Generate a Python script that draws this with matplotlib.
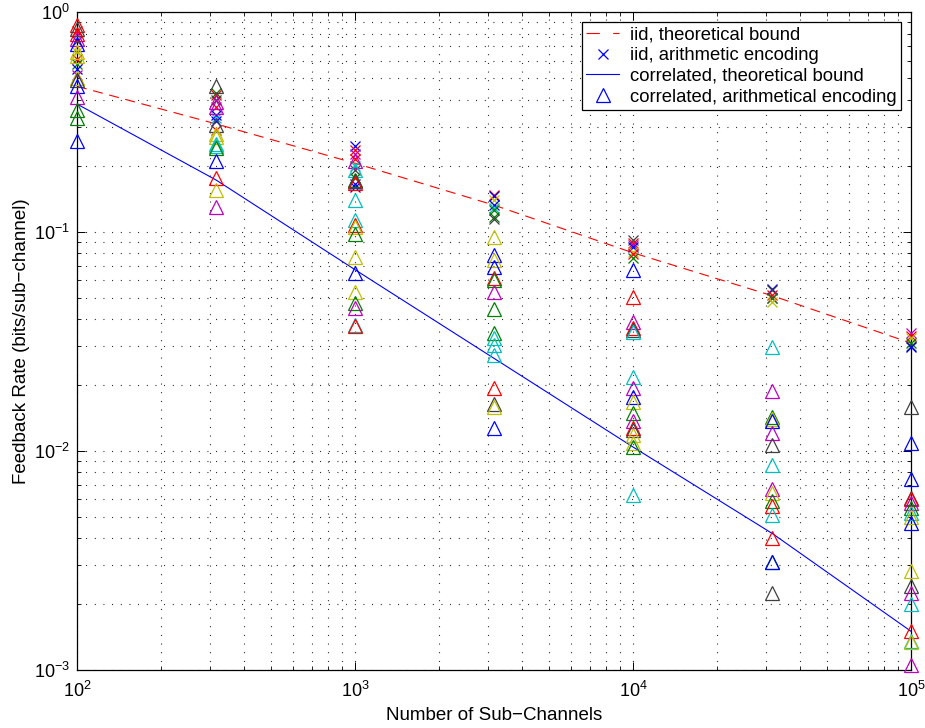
import numpy as np
import matplotlib
matplotlib.use("Agg")
from matplotlib import pyplot as plt
from matplotlib.lines import Line2D

plt.rcParams['font.family'] = ['Liberation Sans', 'DejaVu Sans']
plt.rcParams['mathtext.fontset'] = 'custom'
plt.rcParams['mathtext.rm'] = 'Liberation Sans'
plt.rcParams['mathtext.it'] = 'Liberation Sans'

#--- DATA ---------------------------------------------------------------------+

n_sub = [1e2, 316.2, 1e3, 3162.3, 1e4, 31623, 1e5]

iid_bound = [0.46, 0.31, 0.205, 0.132, 0.080, 0.051, 0.031]
corr_bound = [0.382, 0.172, 0.067, 0.0264, 0.0104, 0.0042, 0.0015]

# iid, arithmetic encoding (x markers) per number of sub-channels
iid_1e2 = [0.82, 0.74, 0.66, 0.61, 0.58, 0.55, 0.52]
iid_1e2_c = 'rkyrgbm'
iid_3e2 = [0.43, 0.42, 0.40, 0.37, 0.34, 0.33, 0.32, 0.29]
iid_3e2_c = 'grkrbcbr'
iid_1e3 = [0.245, 0.235, 0.225, 0.215, 0.20, 0.19, 0.175, 0.165, 0.16]
iid_1e3_c = 'brmrckgbb'
iid_3e3 = [0.147, 0.145, 0.139, 0.132, 0.128, 0.125, 0.116, 0.114]
iid_3e3_c = 'rbybcggk'
iid_1e4 = [0.0916, 0.089, 0.087, 0.085, 0.081, 0.079, 0.0755]
iid_1e4_c = 'krmbyrg'
iid_3e4 = [0.0545, 0.054, 0.0515, 0.050, 0.0496, 0.0477]
iid_3e4_c = 'bkrmgy'
iid_1e5 = [0.0343, 0.0335, 0.0327, 0.0309, 0.0300, 0.0297]
iid_1e5_c = 'mrygkb'

# correlated, arithmetical encoding (triangles)
corr_1e2 = [0.88, 0.84, 0.80, 0.76, 0.72, 0.66, 0.63, 0.50, 0.49, 0.46,
            0.41, 0.36, 0.33, 0.26]
corr_1e2_c = 'rkrmbyyykbmggb'
corr_3e2 = [0.46, 0.39, 0.37, 0.305, 0.28, 0.27, 0.25, 0.245, 0.24, 0.21,
            0.175, 0.155, 0.13]
corr_3e2_c = 'kmmkyyccgbrym'
corr_1e3 = [0.21, 0.19, 0.172, 0.17, 0.167, 0.139, 0.113, 0.107, 0.105,
            0.098, 0.0766, 0.0647, 0.0528, 0.047, 0.045, 0.0375, 0.037]
corr_1e3_c = 'mcgkrccrygybygmcr'
corr_3e3 = [0.094, 0.078, 0.074, 0.0686, 0.0614, 0.060, 0.0528, 0.0442,
            0.0344, 0.0328, 0.0305, 0.0273, 0.0193, 0.0164, 0.0159, 0.0127]
corr_3e3_c = 'ybybrgmggcccrkyb'
corr_1e4 = [0.067, 0.0502, 0.0386, 0.0363, 0.0355, 0.0349, 0.0217, 0.0193,
            0.0176, 0.0167, 0.0148, 0.0137, 0.0127, 0.0124, 0.0118, 0.0109,
            0.0104, 0.0063]
corr_1e4_c = 'brmrkccmbygmrkyygc'
corr_3e4 = [0.0297, 0.0188, 0.0142, 0.014, 0.0137, 0.0121, 0.0106, 0.0086,
            0.0067, 0.0064, 0.0059, 0.0056, 0.0051, 0.0040, 0.0031, 0.0031,
            0.00224]
corr_3e4_c = 'cmgybmkcmygrcrgbk'
corr_1e5 = [0.0159, 0.0109, 0.0074, 0.0061, 0.0060, 0.0058, 0.0055, 0.0052,
            0.0050, 0.0047, 0.00282, 0.00242, 0.00225, 0.0020, 0.0015,
            0.00136, 0.00134, 0.00105]
corr_1e5_c = 'kbbkrmgcybykmcrcym'

iid_sets = [(iid_1e2, iid_1e2_c), (iid_3e2, iid_3e2_c), (iid_1e3, iid_1e3_c),
            (iid_3e3, iid_3e3_c), (iid_1e4, iid_1e4_c), (iid_3e4, iid_3e4_c),
            (iid_1e5, iid_1e5_c)]
corr_sets = [(corr_1e2, corr_1e2_c), (corr_3e2, corr_3e2_c),
             (corr_1e3, corr_1e3_c), (corr_3e3, corr_3e3_c),
             (corr_1e4, corr_1e4_c), (corr_3e4, corr_3e4_c),
             (corr_1e5, corr_1e5_c)]

# matlab default colour order
mcol = {'b': (0, 0, 1), 'g': (0, 0.5, 0), 'r': (1, 0, 0),
        'c': (0, 0.75, 0.75), 'm': (0.75, 0, 0.75), 'y': (0.75, 0.75, 0),
        'k': (0.25, 0.25, 0.25)}

#--- PLOT ---------------------------------------------------------------------+

fig = plt.figure(figsize=(9.25, 7.28), dpi=100)
ax = fig.add_axes([0.0832, 0.0797, 0.9018, 0.9033])
ax.set_xscale('log')
ax.set_yscale('log')

ax.plot(n_sub, iid_bound, color='r', lw=0.8, dashes=(9, 6), zorder=2)
ax.plot(n_sub, corr_bound, color='b', lw=0.8, zorder=2)

for n, (vals, cols) in zip(n_sub, iid_sets):
    for v, c in zip(vals, cols):
        ax.plot(n, v, marker='x', ls='none', ms=6.5, mew=0.9, color=mcol[c],
                clip_on=False, zorder=3)

for n, (vals, cols) in zip(n_sub, corr_sets):
    for v, c in zip(vals, cols):
        ax.plot(n, v, marker='^', ls='none', ms=10, mew=0.9, mfc='none',
                color=mcol[c], clip_on=False, zorder=3)

ax.set_xlim(1e2, 1e5)
ax.set_ylim(1e-3, 1e0)

ax.grid(True, which='both', color='k', linestyle=(0, (0.8, 7)), linewidth=0.8)
ax.tick_params(which='both', direction='in', top=True, right=True,
               labelsize=13, color='k')
ax.tick_params(which='major', length=6, width=0.7)
ax.tick_params(which='minor', length=3, width=0.6)
ax.tick_params(axis='x', pad=8)
ax.tick_params(axis='y', pad=5)
for s in ax.spines.values():
    s.set_linewidth(0.9)

ax.set_xlabel('Number of Sub\u2212Channels', fontsize=13.5, labelpad=4)
ax.set_ylabel('Feedback Rate (bits/sub\u2212channel)', fontsize=13.5, labelpad=3)

handles = [
    Line2D([], [], color='r', lw=0.8, dashes=(12, 12)),
    Line2D([], [], color='b', marker='x', ls='none', ms=6.5, mew=0.9),
    Line2D([], [], color='b', lw=0.8),
    Line2D([], [], color='b', marker='^', ls='none', ms=10, mew=0.9, mfc='none'),
]
labels = ['iid, theoretical bound', 'iid, arithmetic encoding',
          'correlated, theoretical bound', 'correlated, arithmetical encoding']
leg = ax.legend(handles, labels, loc='upper right', fontsize=13.3,
                bbox_to_anchor=(0.988, 0.9856), fancybox=False, framealpha=1,
                edgecolor='k', handlelength=1.75, labelspacing=0.2,
                borderpad=0.25, borderaxespad=0, handletextpad=0.6)
leg.get_frame().set_linewidth(0.9)
leg._legend_box.align = 'left'

plt.savefig('out.png', dpi=100)
